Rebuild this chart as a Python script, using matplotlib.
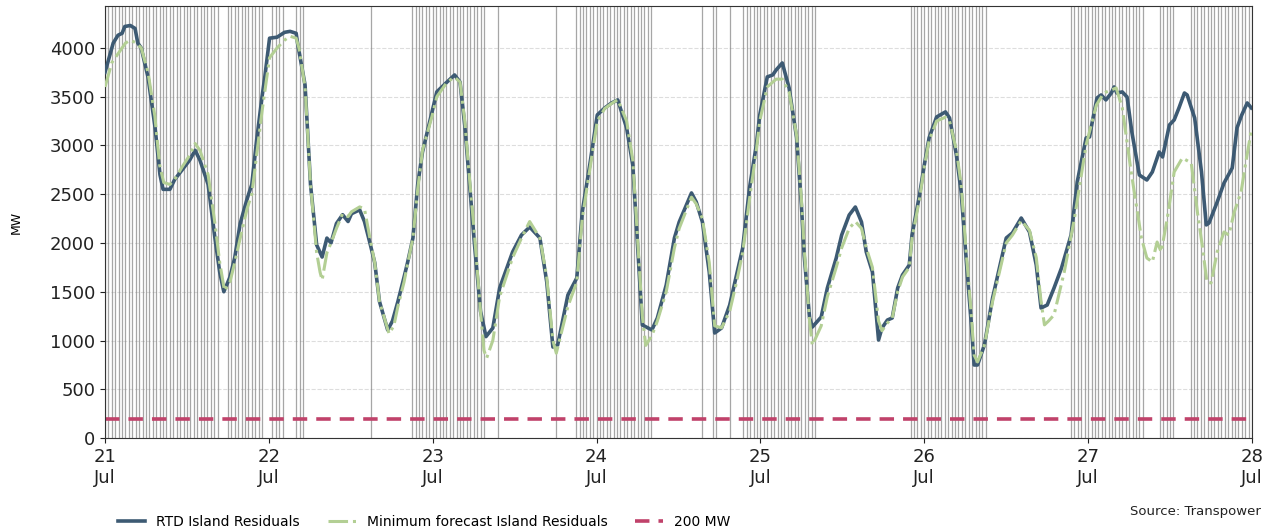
import numpy as np
import pandas as pd
import matplotlib
matplotlib.use("Agg")
import matplotlib.pyplot as plt
import matplotlib.dates as mdates

# hours after 21 Jul 00:00
rtd_hours = [
    0.0, 1.2, 1.9, 2.5, 2.9, 3.7, 4.4, 4.8, 5.3, 6.3, 7.3, 8.05, 8.5, 9.5, 10.2,
    11.3, 12.4, 13.2, 13.9, 15.1, 16.1, 16.8, 17.4, 18.3, 19.0, 19.8, 20.8, 21.5,
    22.2, 23.0, 23.4, 24.1, 25.2, 26.3, 27.1, 28.0, 28.2, 29.3, 29.7, 30.1, 31.0,
    31.8, 32.5, 33.1, 33.9, 34.8, 35.6, 36.1, 37.3, 38.0, 38.8, 39.5, 40.2, 41.4,
    42.1, 42.9, 43.8, 44.3, 45.1, 45.8, 46.5, 47.9, 48.6, 50.1, 51.2, 52.0, 52.7,
    53.4, 54.1, 55.0, 55.8, 56.8, 57.8, 59.7, 61.0, 62.2, 63.7, 64.7, 65.6, 66.3,
    67.8, 69.1, 69.9, 71.0, 72.1, 73.2, 74.2, 75.1, 76.4, 77.3, 78.0, 78.7, 80.1,
    80.9, 82.2, 83.4, 84.1, 85.9, 86.6, 87.5, 88.5, 89.3, 90.3, 91.5, 92.5, 93.4,
    94.4, 95.4, 95.9, 97.0, 97.8, 98.3, 99.2, 100.2, 101.3, 102.0, 102.4, 103.2,
    103.6, 104.9, 105.8, 107.1, 107.9, 109.0, 109.9, 110.8, 111.5, 112.4, 113.3,
    113.8, 114.6, 115.3, 116.1, 116.8, 117.8, 118.2, 119.3, 120.0, 120.7, 121.8,
    123.1, 123.7, 124.7, 125.4, 126.2, 126.9, 127.3, 127.8, 128.8, 130.0, 131.0,
    132.0, 132.9, 134.2, 135.4, 136.4, 137.1, 138.0, 139.0, 140.1, 141.5, 142.4,
    143.7, 144.2, 144.6, 145.3, 145.9, 146.6, 147.4, 147.8, 148.2, 149.0, 149.7,
    150.4, 151.5, 152.6, 153.4, 154.4, 154.9, 155.9, 156.6, 157.3, 158.1, 158.5,
    159.6, 160.6, 161.3, 161.7, 162.9, 163.9, 165.1, 165.8, 166.5, 167.3, 167.9,
]
rtd_mw = [
    3750, 4050, 4130, 4150, 4220, 4230, 4200, 4050, 4000, 3700, 3200, 2700, 2550,
    2550, 2650, 2750, 2850, 2950, 2850, 2600, 2050, 1700, 1500, 1650, 1850, 2200,
    2450, 2600, 3050, 3500, 3700, 4100, 4110, 4160, 4170, 4150, 4050, 3620, 3100,
    2600, 1980, 1856, 2050, 2000, 2200, 2290, 2220, 2300, 2340, 2220, 2000, 1800,
    1400, 1108, 1200, 1400, 1650, 1795, 2050, 2600, 2933, 3344, 3550, 3651, 3723,
    3650, 3200, 2600, 2000, 1300, 1040, 1128, 1538, 1908, 2082, 2164, 2051, 1600,
    933, 954, 1467, 1641, 2318, 2800, 3313, 3385, 3436, 3467, 3180, 2800, 1980,
    1159, 1108, 1231, 1569, 2051, 2215, 2513, 2420, 2215, 1703, 1077, 1128, 1364,
    1672, 1949, 2564, 3005, 3313, 3703, 3723, 3774, 3846, 3590, 3077, 2390, 1877,
    1231, 1138, 1241, 1538, 1846, 2082, 2287, 2369, 2215, 1908, 1703, 1005, 1128,
    1210, 1231, 1538, 1672, 1774, 2082, 2492, 2800, 3077, 3292, 3344, 3282, 2903,
    2523, 1774, 1159, 749, 749, 954, 1436, 1744, 2051, 2103, 2256, 2113, 1774,
    1333, 1364, 1538, 1744, 2082, 2626, 3077, 3087, 3241, 3487, 3518, 3467, 3538,
    3600, 3538, 3549, 3497, 3138, 2697, 2646, 2728, 2933, 2882, 3210, 3262, 3385,
    3538, 3518, 3282, 2728, 2185, 2205, 2420, 2615, 2769, 3180, 3313, 3436, 3385,
]

fc_hours = [
    0.0, 1.0, 2.0, 3.0, 3.7, 4.6, 5.3, 6.3, 7.3, 8.0, 8.6, 9.5, 10.2, 11.3, 12.4,
    13.2, 13.9, 15.1, 16.1, 16.8, 17.5, 18.3, 19.0, 19.8, 20.8, 21.5, 22.2, 23.0,
    23.5, 24.1, 25.2, 26.3, 27.1, 28.0, 28.4, 29.3, 29.7, 30.1, 31.0, 31.5, 31.8,
    32.5, 33.1, 33.9, 34.8, 35.6, 36.1, 37.3, 38.0, 38.8, 39.5, 40.2, 41.6, 42.3,
    42.9, 43.8, 44.3, 45.1, 45.8, 46.5, 47.9, 48.6, 50.1, 51.2, 52.0, 52.7, 53.4,
    54.1, 55.0, 55.5, 55.9, 56.8, 57.8, 59.7, 61.0, 62.2, 63.7, 64.7, 65.6, 66.1,
    67.8, 69.1, 69.9, 71.0, 72.1, 73.2, 74.2, 75.1, 76.4, 77.3, 78.0, 78.7, 79.2,
    80.1, 80.9, 82.2, 83.4, 84.1, 85.9, 86.6, 87.5, 88.5, 89.3, 90.3, 91.5, 92.5,
    93.4, 94.4, 95.4, 95.9, 97.0, 97.8, 98.3, 99.2, 100.2, 101.3, 102.0, 102.4,
    103.2, 103.6, 104.9, 105.8, 107.1, 107.9, 109.0, 109.9, 110.8, 111.5, 112.4,
    113.3, 113.8, 114.6, 115.3, 116.1, 116.8, 117.8, 118.2, 119.3, 120.0, 120.7,
    121.8, 123.1, 123.7, 124.7, 125.4, 126.2, 126.9, 127.3, 127.8, 128.8, 130.0,
    131.0, 132.0, 132.9, 134.2, 135.4, 136.4, 137.1, 137.6, 138.2, 139.0, 140.5,
    142.0, 143.7, 145.2, 146.3, 148.1, 149.0, 150.3, 151.8, 152.6, 153.4, 154.1,
    154.7, 155.6, 156.6, 157.8, 159.1, 160.0, 160.7, 161.4, 162.0, 162.9, 163.9,
    164.6, 165.4, 166.4, 167.1, 167.9,
]
fc_mw = [
    3600, 3850, 3950, 4050, 4080, 4050, 4000, 3750, 3300, 2800, 2620, 2600, 2650,
    2780, 2900, 3020, 2950, 2700, 2200, 1800, 1510, 1600, 1800, 2050, 2350, 2500,
    2900, 3350, 3600, 3900, 4000, 4080, 4120, 4100, 4000, 3600, 3100, 2600, 1900,
    1700, 1620, 1900, 2000, 2150, 2300, 2270, 2320, 2370, 2350, 2050, 1800, 1400,
    1070, 1150, 1350, 1600, 1780, 2050, 2550, 2950, 3300, 3500, 3650, 3700, 3650,
    3250, 2650, 2100, 1300, 900, 820, 1000, 1450, 1850, 2050, 2220, 2050, 1650,
    1000, 870, 1350, 1600, 2250, 2750, 3250, 3380, 3430, 3470, 3250, 2850, 2050,
    1250, 950, 1050, 1200, 1500, 1950, 2150, 2470, 2400, 2250, 1800, 1150, 1130,
    1300, 1600, 1900, 2450, 2950, 3250, 3600, 3650, 3680, 3680, 3550, 3100, 2450,
    1950, 1200, 950, 1150, 1450, 1750, 1950, 2150, 2220, 2150, 1950, 1750, 1200,
    1100, 1180, 1230, 1500, 1650, 1750, 2050, 2450, 2780, 3050, 3250, 3290, 3250,
    2950, 2600, 1850, 1250, 850, 780, 950, 1400, 1700, 2000, 2080, 2230, 2130,
    1850, 1400, 1160, 1200, 1262, 1703, 2256, 3005, 3415, 3538, 3590, 3385, 2728,
    2051, 1846, 1805, 2010, 1908, 2256, 2728, 2872, 2820, 2318, 1980, 1600, 1590,
    1908, 2113, 2082, 2318, 2523, 2831, 3159,
]

# trading periods flagged (hours after 21 Jul 00:00, half-hour steps, inclusive)
flag_ranges = [
    (0.0, 16.5), (18.0, 23.0), (24.5, 26.0), (28.0, 29.0), (39.0, 39.0),
    (45.0, 55.5), (57.5, 57.5), (66.0, 66.0), (69.0, 80.0), (87.5, 87.5),
    (89.0, 89.5), (91.5, 91.5), (93.5, 104.0), (118.0, 129.0),
    (141.5, 152.0), (154.5, 156.5), (159.0, 168.0),
]
threshold_mw = 200

start = pd.Timestamp("2023-07-21")
t_rtd = start + pd.to_timedelta(rtd_hours, unit="h")
t_fc = start + pd.to_timedelta(fc_hours, unit="h")

fig = plt.figure(figsize=(12.76, 5.31), dpi=100)
ax = fig.add_axes([0.0823, 0.1751, 0.8989, 0.8136])

for a, b in flag_ranges:
    for h in np.arange(a, b + 0.01, 0.5):
        ax.axvline(start + pd.Timedelta(hours=h), color="#888888", lw=0.9,
                   alpha=0.75, zorder=1)

ax.plot(t_rtd, rtd_mw, color="#3d5a73", lw=2.6, label="RTD Island Residuals",
        zorder=3)
ax.plot(t_fc, fc_mw, color="#b3cf94", lw=2.2, ls="-.",
        label="Minimum forecast Island Residuals", zorder=4)
ax.axhline(threshold_mw, color="#c0426a", lw=2.6, ls=(0, (4, 2.5)),
           label="200 MW", zorder=2)

ax.set_xlim(start, start + pd.Timedelta(days=7))
ax.set_ylim(0, 4430)
ax.set_yticks(np.arange(0, 4001, 500))
ax.yaxis.grid(True, ls="--", color="#dddddd", lw=0.8)
ax.set_axisbelow(True)
ax.xaxis.set_major_locator(mdates.DayLocator())
ax.xaxis.set_major_formatter(mdates.DateFormatter("%d\n%b"))
ax.tick_params(labelsize=13, colors="#222222")
ax.set_ylabel("MW", fontsize=9)
ax.yaxis.set_label_coords(-0.072, 0.5)
for s in ax.spines.values():
    s.set_color("#333333")

ax.legend(loc="upper left", bbox_to_anchor=(0.0, -0.149), ncol=3,
          frameon=False, fontsize=10)
fig.text(0.988, 0.03, "Source: Transpower", ha="right", fontsize=9.5,
         color="#222222")

fig.savefig("out.png", dpi=100)
